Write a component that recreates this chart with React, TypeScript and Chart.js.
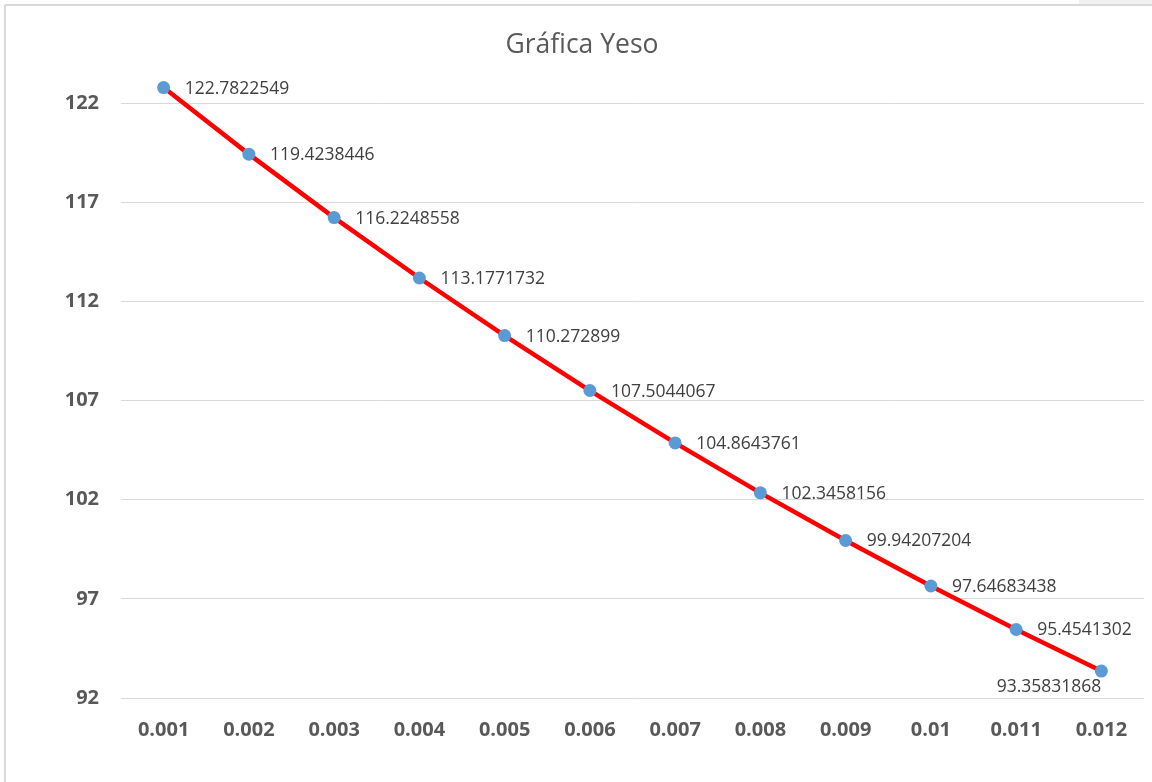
import React, { useEffect, useRef } from "react";
import { Chart, registerables } from "chart.js";

Chart.register(...registerables);

const categories = ["0.001", "0.002", "0.003", "0.004", "0.005", "0.006", "0.007", "0.008", "0.009", "0.01", "0.011", "0.012"];
const values = [122.7822549, 119.4238446, 116.2248558, 113.1771732, 110.272899, 107.5044067, 104.8643761, 102.3458156, 99.94207204, 97.64683438, 95.4541302, 93.35831868];
const yTicks = [92, 97, 102, 107, 112, 117, 122];
const titleText = "Gráfica Yeso";

const FONT = "'Open Sans', 'Noto Sans', sans-serif";

const framePlugin = {
  id: "frame",
  beforeDraw(chart: any) {
    const { ctx, width, height } = chart;
    ctx.save();
    ctx.fillStyle = "#ffffff";
    ctx.fillRect(0, 0, width, height);
    ctx.fillStyle = "#f0f0f0";
    ctx.fillRect(1079, 0, width - 1079, 5);
    ctx.strokeStyle = "#d9d9d9";
    ctx.lineWidth = 2;
    ctx.beginPath();
    ctx.moveTo(5, 5);
    ctx.lineTo(width, 5);
    ctx.moveTo(5, 5);
    ctx.lineTo(5, height);
    ctx.stroke();
    ctx.restore();
  },
};

const labelPlugin = {
  id: "pointLabels",
  afterDatasetsDraw(chart: any) {
    const { ctx } = chart;
    const meta = chart.getDatasetMeta(0);
    const data = chart.data.datasets[0].data as number[];
    ctx.save();
    ctx.font = `17.5px ${FONT}`;
    ctx.fillStyle = "#404040";
    ctx.textBaseline = "middle";
    meta.data.forEach((pt: any, i: number) => {
      const txt = String(data[i]);
      if (i === data.length - 1) {
        ctx.textAlign = "right";
        ctx.fillText(txt, pt.x, pt.y + 16);
      } else {
        ctx.textAlign = "left";
        ctx.fillText(txt, pt.x + 21, pt.y + 1);
      }
    });
    ctx.restore();
  },
};

export default function App() {
  const ref = useRef<HTMLCanvasElement | null>(null);

  useEffect(() => {
    document.body.style.margin = "0";
    if (!ref.current) return;
    const chart = new Chart(ref.current, {
      type: "line",
      data: {
        labels: categories,
        datasets: [
          {
            data: values,
            borderColor: "#ff0000",
            borderWidth: 4.5,
            pointBackgroundColor: "#5b9bd5",
            pointBorderColor: "#5b9bd5",
            pointRadius: 6.5,
            pointBorderWidth: 0,
            tension: 0,
            clip: false as any,
          },
        ],
      },
      options: {
        responsive: false,
        animation: false,
        layout: { padding: { left: 20, right: 8, top: 0, bottom: 0 } },
        plugins: {
          legend: { display: false },
          tooltip: { enabled: false },
          title: {
            display: true,
            text: titleText,
            color: "#595959",
            font: { family: FONT, size: 26.5, weight: "normal", lineHeight: 1.2 },
            padding: { top: 30, bottom: 11.5 },
          },
        },
        scales: {
          x: {
            offset: true,
            afterFit: (axis: any) => {
              axis.height = 84;
            },
            grid: { display: false, drawTicks: false },
            border: { display: false },
            ticks: {
              color: "#595959",
              font: { family: FONT, size: 20, weight: "bold", lineHeight: 1.2 },
              padding: 20,
              maxRotation: 0,
              autoSkip: false,
            },
          },
          y: {
            min: 92,
            max: 123.5,
            afterBuildTicks: (axis: any) => {
              axis.ticks = yTicks.map((v) => ({ value: v }));
            },
            afterFit: (axis: any) => {
              axis.width = 101;
            },
            grid: { color: "#d9d9d9", lineWidth: 1, drawTicks: false },
            border: { display: false },
            ticks: {
              color: "#595959",
              font: { family: FONT, size: 20, weight: "bold" },
              padding: 22,
            },
          },
        },
      },
      plugins: [framePlugin, labelPlugin],
    });
    return () => chart.destroy();
  }, []);

  return (
    <div style={{ position: "relative", width: 1152, height: 782 }}>
      <canvas ref={ref} width={1152} height={782} style={{ display: "block", width: 1152, height: 782 }} />
    </div>
  );
}
